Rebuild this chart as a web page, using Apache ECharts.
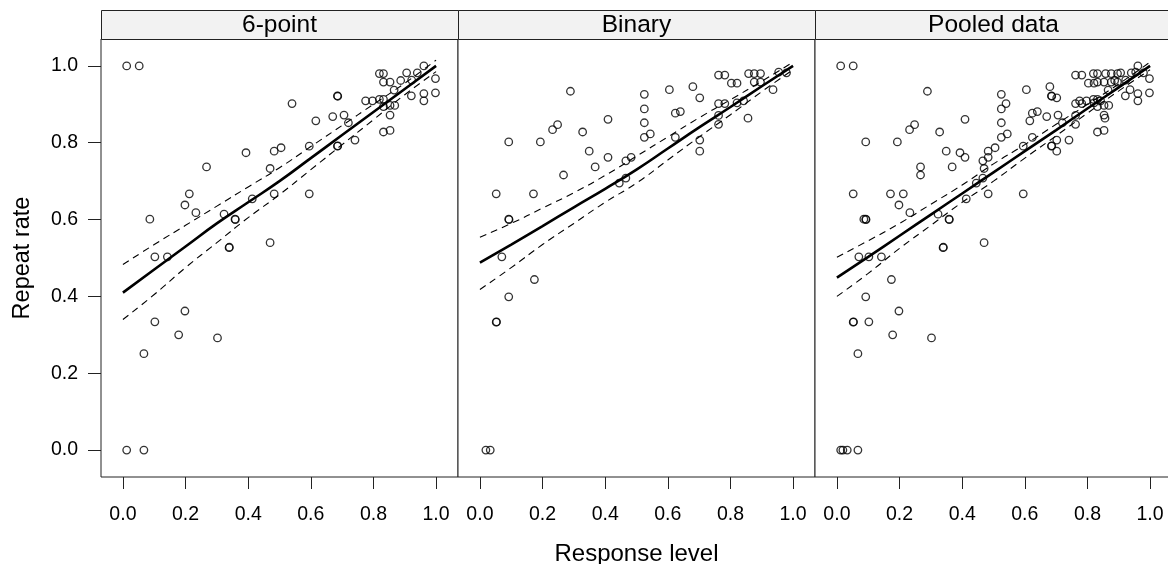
<!DOCTYPE html>
<html>
<head>
<meta charset="utf-8">
<script src="https://cdn.jsdelivr.net/npm/echarts@6/dist/echarts.min.js"></script>
<style>
html,body{margin:0;padding:0;background:#fff;}
#c{width:1168px;height:564px;}
</style>
</head>
<body>
<div id="c"></div>
<script>
// ---------- data ----------
const panelNames = ['6-point', 'Binary', 'Pooled data'];
const tickValues = [0, 0.2, 0.4, 0.6, 0.8, 1.0];
const xTitle = 'Response level';
const yTitle = 'Repeat rate';

const sixPoint = [
  [0.012,1.0],[0.052,1.0],[0.961,1.0],[0.819,0.980],[0.832,0.980],[0.906,0.982],[0.940,0.982],[0.998,0.967],
  [0.832,0.958],[0.853,0.958],[0.887,0.962],[0.922,0.963],[0.866,0.937],[0.921,0.922],[0.961,0.928],[0.961,0.909],
  [0.998,0.930],[0.775,0.909],[0.797,0.909],[0.819,0.913],[0.832,0.913],[0.832,0.894],[0.853,0.897],[0.868,0.897],
  [0.853,0.872],[0.832,0.828],[0.853,0.832],[0.685,0.922],[0.686,0.921],[0.540,0.902],[0.616,0.857],[0.670,0.868],
  [0.706,0.872],[0.720,0.852],[0.741,0.807],[0.685,0.791],[0.686,0.792],[0.595,0.791],[0.505,0.787],[0.483,0.778],
  [0.393,0.774],[0.470,0.733],[0.267,0.737],[0.413,0.654],[0.483,0.667],[0.595,0.667],[0.212,0.667],[0.198,0.638],
  [0.233,0.618],[0.323,0.614],[0.358,0.601],[0.359,0.600],[0.086,0.601],[0.470,0.540],[0.339,0.527],[0.340,0.528],
  [0.102,0.503],[0.142,0.503],[0.198,0.362],[0.102,0.334],[0.178,0.300],[0.302,0.292],[0.067,0.251],
  [0.012,0.0],[0.067,0.0]
];

const binary = [
  [0.289,0.934],[0.092,0.802],[0.193,0.802],[0.232,0.834],[0.248,0.847],[0.328,0.828],[0.409,0.861],[0.349,0.778],
  [0.409,0.762],[0.368,0.737],[0.267,0.716],[0.052,0.667],[0.171,0.667],[0.092,0.601],[0.093,0.600],[0.070,0.503],
  [0.525,0.926],[0.525,0.888],[0.525,0.852],[0.525,0.814],[0.544,0.823],[0.605,0.938],[0.680,0.946],[0.702,0.917],
  [0.624,0.877],[0.640,0.881],[0.624,0.814],[0.702,0.807],[0.702,0.778],[0.466,0.753],[0.483,0.762],[0.445,0.695],
  [0.466,0.708],[0.762,0.976],[0.782,0.976],[0.803,0.955],[0.821,0.955],[0.858,0.980],[0.876,0.980],[0.896,0.980],
  [0.876,0.958],[0.896,0.958],[0.954,0.984],[0.979,0.982],[0.936,0.938],[0.762,0.902],[0.782,0.902],[0.821,0.904],
  [0.842,0.909],[0.762,0.871],[0.762,0.848],[0.856,0.864],[0.174,0.444],[0.092,0.399],[0.052,0.333],[0.053,0.334],
  [0.019,0.0],[0.033,0.0]
];

const pooled = sixPoint.concat(binary);

// fitted curves and confidence bands, sampled at fitX
const fitX = [0, 0.1, 0.2, 0.3, 0.4, 0.5, 0.6, 0.7, 0.8, 0.9, 1.0];
const fitSix   = [0.410,0.470,0.530,0.590,0.645,0.700,0.760,0.820,0.880,0.940,1.000];
const upSix    = [0.483,0.535,0.585,0.635,0.685,0.735,0.790,0.845,0.900,0.955,1.015];
const loSix    = [0.340,0.405,0.475,0.540,0.605,0.665,0.730,0.795,0.860,0.925,0.985];
const fitBin   = [0.488,0.535,0.583,0.632,0.680,0.730,0.785,0.840,0.893,0.947,1.000];
const upBin    = [0.554,0.590,0.630,0.670,0.715,0.765,0.815,0.865,0.912,0.960,1.010];
const loBin    = [0.418,0.475,0.535,0.590,0.645,0.695,0.755,0.815,0.873,0.933,0.990];
const fitPool  = [0.449,0.503,0.558,0.613,0.668,0.723,0.778,0.833,0.889,0.944,1.000];
const upPool   = [0.502,0.545,0.590,0.640,0.690,0.745,0.795,0.848,0.900,0.953,1.010];
const loPool   = [0.400,0.460,0.525,0.585,0.645,0.700,0.760,0.818,0.877,0.935,0.990];

// ---------- layout ----------
const FONT = "'Liberation Sans', Arial, sans-serif";
const panelLeft = [101, 458, 815];
const panelW = 357, panelTop = 39, panelH = 438;
const stripTop = 10, stripH = 29;
const pointsByPanel = [sixPoint, binary, pooled];
const curves = [[fitSix, upSix, loSix], [fitBin, upBin, loBin], [fitPool, upPool, loPool]];
const pair = ys => fitX.map((x, i) => [x, ys[i]]);

const grid = [], xAxis = [], yAxis = [], series = [], graphic = [];
for (let p = 0; p < 3; p++) {
  grid.push({left: panelLeft[p], top: panelTop, width: panelW, height: panelH,
    show: true, borderColor: '#222', borderWidth: 1, backgroundColor: '#fff',
    containLabel: false, outerBoundsMode: 'none'});
  xAxis.push({
    gridIndex: p, type: 'value', min: -0.07, max: 1.07, position: 'bottom',
    axisLine: {show: false, onZero: false},
    axisTick: {show: true, length: 12, inside: false, customValues: tickValues, lineStyle: {color: '#222', width: 1}},
    axisLabel: {show: true, customValues: tickValues, formatter: v => v.toFixed(1), fontSize: 19.5,
      fontFamily: FONT, color: '#000', margin: 28},
    splitLine: {show: false},
    name: p === 1 ? xTitle : '', nameLocation: 'middle', nameGap: 65,
    nameTextStyle: {fontSize: 24, fontFamily: FONT, color: '#000'}
  });
  yAxis.push({
    gridIndex: p, type: 'value', min: -0.07, max: 1.07, show: p === 0, position: 'left',
    axisLine: {show: false, onZero: false},
    axisTick: {show: true, length: 13, inside: false, customValues: tickValues, lineStyle: {color: '#222', width: 1}},
    axisLabel: {show: true, customValues: tickValues, formatter: v => v.toFixed(1), fontSize: 19.5,
      fontFamily: FONT, color: '#000', margin: 23},
    splitLine: {show: false},
    name: p === 0 ? yTitle : '', nameLocation: 'middle', nameGap: 66, nameRotate: 90,
    nameTextStyle: {fontSize: 23.5, fontFamily: FONT, color: '#000'}
  });
  series.push({
    type: 'scatter', xAxisIndex: p, yAxisIndex: p, data: pointsByPanel[p],
    symbol: 'circle', symbolSize: 7.5, silent: true, z: 2,
    itemStyle: {color: 'rgba(0,0,0,0)', borderColor: '#000', borderWidth: 1.3}
  });
  const [f, u, l] = curves[p];
  series.push({type: 'line', xAxisIndex: p, yAxisIndex: p, data: pair(f), showSymbol: false, smooth: true, silent: true, z: 3,
    lineStyle: {color: '#000', width: 2.6}});
  [u, l].forEach(b => series.push({type: 'line', xAxisIndex: p, yAxisIndex: p, data: pair(b), showSymbol: false, smooth: true,
    silent: true, z: 3, lineStyle: {color: '#000', width: 1.1, type: [7, 5]}}));
  graphic.push({type: 'rect', left: panelLeft[p], top: stripTop, silent: true,
    shape: {width: panelW, height: stripH}, style: {fill: '#f2f2f2', stroke: '#222', lineWidth: 1}});
  graphic.push({type: 'text', x: panelLeft[p] + panelW / 2, y: stripTop + stripH / 2 + 1, silent: true,
    style: {text: panelNames[p], font: '24.5px ' + FONT, fill: '#000', align: 'center', verticalAlign: 'middle'}});
}

const chart = echarts.init(document.getElementById('c'), null, {renderer: 'canvas'});
chart.setOption({
  animation: false, backgroundColor: '#fff',
  grid, xAxis, yAxis, series, graphic
});
</script>
</body>
</html>
